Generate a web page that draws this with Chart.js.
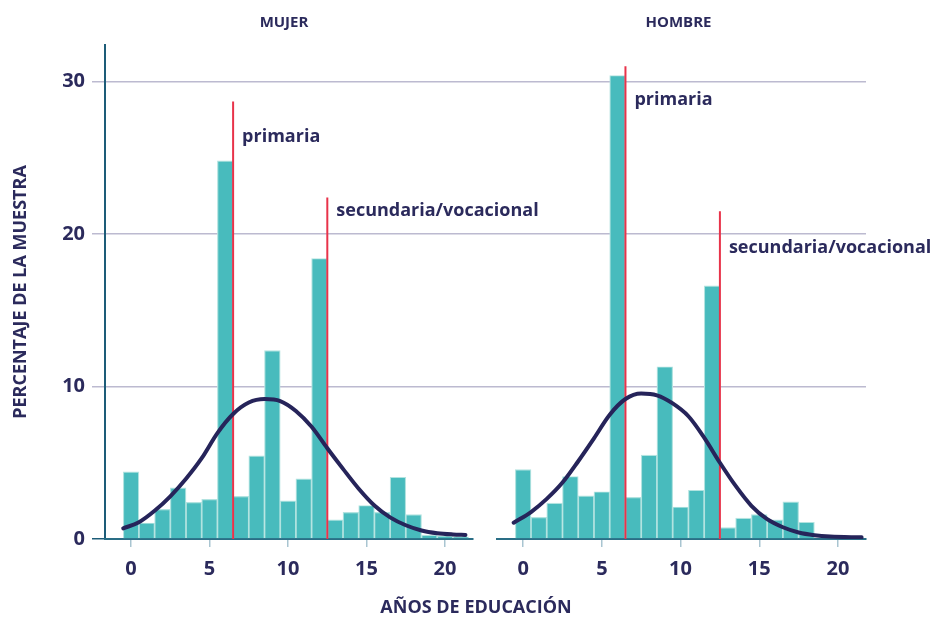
<!DOCTYPE html>
<html>
<head>
<meta charset="utf-8">
<title>Años de educación</title>
<script src="https://cdn.jsdelivr.net/npm/chart.js@4.4.1/dist/chart.umd.min.js"></script>
<style>
  body { margin: 0; background: #ffffff; }
  #wrap { position: relative; width: 931px; height: 617px; }
</style>
</head>
<body>
<div id="wrap"><canvas id="myChart" width="931" height="617"></canvas></div>
<script>
// años de educación (bins of the histogram)
var years = [0, 1, 2, 3, 4, 5, 6, 7, 8, 9, 10, 11, 12, 13, 14, 15, 16, 17, 18, 19, 20, 21];
var mujerPct = [4.4, 1.05, 1.95, 3.35, 2.4, 2.6, 24.8, 2.8, 5.45, 12.35, 2.5, 3.95, 18.4, 1.25, 1.75, 2.2, 1.75, 4.05, 1.6, 0.25, 0.2, 0.15];
var hombrePct = [4.55, 1.42, 2.35, 4.1, 2.83, 3.1, 30.4, 2.73, 5.5, 11.3, 2.1, 3.2, 16.6, 0.75, 1.37, 1.6, 1.25, 2.43, 1.1];

// normal curves
var mujerCurveX = [-0.5, 0.5, 1.5, 2.5, 3.5, 4.5, 5.5, 6.5, 7.5, 8.5, 9.5, 10.5, 11.5, 12.5, 13.5, 14.5, 15.5, 16.5, 17.5, 18.5, 19.5, 20.5, 21.3];
var mujerCurveY = [0.7, 1.1, 1.85, 2.8, 3.95, 5.3, 6.95, 8.2, 8.95, 9.18, 9.05, 8.4, 7.36, 5.95, 4.6, 3.3, 2.2, 1.42, 0.9, 0.56, 0.38, 0.3, 0.27];
var hombreCurveX = [-0.6, 0.5, 1.5, 2.5, 3.5, 4.5, 5.5, 6.5, 7.5, 8.5, 9.5, 10.5, 11.5, 12.5, 13.5, 14.5, 15.5, 16.5, 17.5, 18.5, 19.5, 21.5];
var hombreCurveY = [1.07, 1.77, 2.63, 3.7, 5.1, 6.6, 8.15, 9.18, 9.54, 9.42, 8.89, 8.05, 6.65, 5.0, 3.48, 2.18, 1.3, 0.77, 0.43, 0.25, 0.16, 0.11];

// red markers: primaria / secundaria
var markLabels = ['primaria', 'secundaria/vocacional'];
var mujerMarkX = [6.5, 12.5];
var mujerMarkTop = [28.7, 22.4];
var mujerLabelY = [26.4, 21.5];
var hombreMarkX = [6.5, 12.5];
var hombreMarkTop = [31.0, 21.5];
var hombreLabelY = [28.8, 19.1];

var panelTitles = ['MUJER', 'HOMBRE'];
var xTitle = 'AÑOS DE EDUCACIÓN';
var yTitle = 'PERCENTAJE DE LA MUESTRA';
var yTicks = [0, 10, 20, 30];
var xTicks = [0, 5, 10, 15, 20];

var navy = '#2b2a5c';
var teal = '#48bbbd';
var red = '#e8334a';
var gridGray = '#bcbad0';

Chart.defaults.font.family = '"Open Sans", sans-serif';
Chart.defaults.color = navy;

function pts(xs, ys) {
  var out = [];
  for (var i = 0; i < ys.length; i++) out.push({ x: xs[i], y: ys[i] });
  return out;
}

function markerSets(xs, tops, axis) {
  return xs.map(function (x, i) {
    return {
      type: 'line', xAxisID: axis, yAxisID: 'y', order: 1,
      data: [{ x: x, y: 0 }, { x: x, y: tops[i] }],
      borderColor: red, borderWidth: 2, pointRadius: 0, fill: false
    };
  });
}

function curveSet(xs, ys, axis) {
  return {
    type: 'line', xAxisID: axis, yAxisID: 'y', order: 0,
    data: pts(xs, ys),
    borderColor: '#26245a', borderWidth: 4, pointRadius: 0, fill: false,
    tension: 0.4, cubicInterpolationMode: 'monotone', borderCapStyle: 'round'
  };
}

function barSet(vals, axis) {
  return {
    type: 'bar', xAxisID: axis, yAxisID: 'y', order: 2,
    data: pts(years, vals),
    backgroundColor: teal, borderColor: '#b2e3e0', borderWidth: 1.2,
    barPercentage: 1, categoryPercentage: 1, grouped: false
  };
}

function xScale(weight) {
  return {
    type: 'linear', position: 'bottom', stack: 'edu', stackWeight: weight,
    min: -1.66, max: 21.78, offset: false,
    afterBuildTicks: function (s) { s.ticks = xTicks.map(function (v) { return { value: v }; }); },
    afterFit: function (s) { s.height = 44; },
    grid: { display: true, drawOnChartArea: false, drawTicks: true, tickLength: 8, color: '#a9c5d1', lineWidth: 1.5, offset: false },
    border: { display: true, color: '#2a6e86', width: 2 },
    ticks: { padding: 10, font: { size: 20, weight: 'bold' }, color: navy }
  };
}

var textPlugin = {
  id: 'panelText',
  afterDatasetsDraw: function (chart) {
    var ctx = chart.ctx;
    var ys = chart.scales.y;
    var panels = [
      [chart.scales.xM, mujerMarkX, mujerLabelY],
      [chart.scales.xH, hombreMarkX, hombreLabelY]
    ];
    ctx.save();
    ctx.fillStyle = navy;
    ctx.textBaseline = 'middle';
    ctx.textAlign = 'left';
    ctx.font = 'bold 18px "Open Sans"';
    panels.forEach(function (p) {
      for (var i = 0; i < markLabels.length; i++) {
        ctx.fillText(markLabels[i], p[0].getPixelForValue(p[1][i]) + 9, ys.getPixelForValue(p[2][i]));
      }
    });
    ctx.textAlign = 'center';
    ctx.font = 'bold 15px "Open Sans"';
    ctx.fillText(panelTitles[0], (chart.scales.xM.left + chart.scales.xM.right) / 2 - 5, 23);
    ctx.fillText(panelTitles[1], (chart.scales.xH.left + chart.scales.xH.right) / 2 - 3, 23);
    ctx.font = 'bold 18px "Open Sans"';
    ctx.fillText(xTitle, chart.scales.xM.right + 3, 608);
    ctx.restore();
  }
};

var ctx = document.getElementById('myChart').getContext('2d');
var chart = new Chart(ctx, {
  type: 'bar',
  data: {
    datasets: [
      curveSet(mujerCurveX, mujerCurveY, 'xM'),
      curveSet(hombreCurveX, hombreCurveY, 'xH')
    ].concat(markerSets(mujerMarkX, mujerMarkTop, 'xM'))
     .concat(markerSets(hombreMarkX, hombreMarkTop, 'xH'))
     .concat([barSet(mujerPct, 'xM'), barSet(hombrePct, 'xH')])
  },
  options: {
    responsive: false,
    animation: false,
    layout: { padding: { left: 0, top: 45, right: 65, bottom: 34 } },
    plugins: { legend: { display: false }, tooltip: { enabled: false } },
    scales: {
      y: {
        type: 'linear', position: 'left', min: 0, max: 32.4,
        afterBuildTicks: function (s) { s.ticks = yTicks.map(function (v) { return { value: v }; }); },
        afterFit: function (s) { s.width = 105; },
        grid: {
          color: function (c) { return c.tick && c.tick.value === 0 ? 'rgba(0,0,0,0)' : gridGray; },
          tickColor: function (c) { return c.tick && c.tick.value === 0 ? '#1d5c78' : gridGray; },
          lineWidth: 1.5, tickLength: 13
        },
        border: { display: true, color: '#1d5c78', width: 2 },
        ticks: { padding: 7, font: { size: 20, weight: 'bold' }, color: navy },
        title: { display: true, text: yTitle, color: navy, font: { size: 18, weight: 'bold' }, padding: { top: 10 } }
      },
      xM: xScale(368),
      xGap: {
        type: 'linear', position: 'bottom', stack: 'edu', stackWeight: 24,
        afterFit: function (s) { s.height = 44; },
        grid: { display: false }, border: { display: false }, ticks: { display: false }
      },
      xH: xScale(369)
    }
  },
  plugins: [textPlugin]
});
</script>
</body>
</html>
